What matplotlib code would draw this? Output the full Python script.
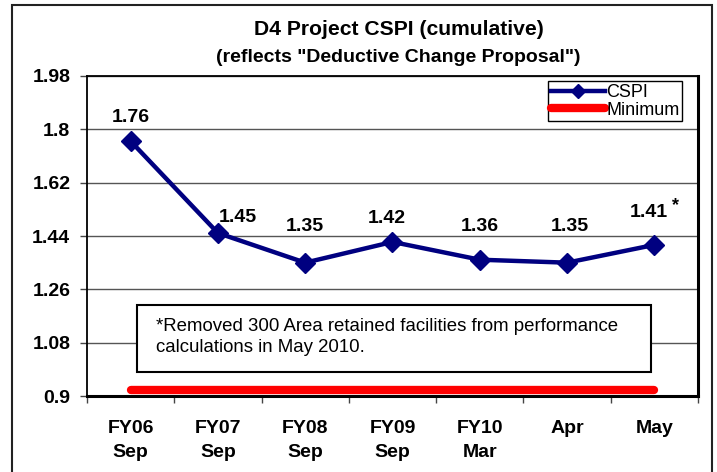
import numpy as np
import matplotlib
matplotlib.use('Agg')
import matplotlib.pyplot as plt
from matplotlib.patches import Rectangle
from matplotlib.lines import Line2D

periods = ['FY06\nSep', 'FY07\nSep', 'FY08\nSep', 'FY09\nSep', 'FY10\nMar', 'Apr', 'May']
cspi = [1.76, 1.45, 1.35, 1.42, 1.36, 1.35, 1.41]
minimum = [0.92] * len(periods)
yticks = [0.9, 1.08, 1.26, 1.44, 1.62, 1.8, 1.98]

# per-label offsets (points) to mimic the hand-placed Excel labels
lab_dx = [0, 14, 0, -4, 0, 2, -4]
lab_dy = [17, 11, 26, 17, 24, 26, 23]

NAVY = '#000080'; RED = '#ff0000'
plt.rcParams.update({'font.family': ['Liberation Sans', 'DejaVu Sans']})

fig = plt.figure(figsize=(7.17, 4.72), dpi=100)
ax = fig.add_axes([0.1213, 0.161, 0.8522, 0.678])

# outer chart border
fig.patches.append(Rectangle((0.0167, -0.01), 0.976, 0.999, transform=fig.transFigure,
                             fill=False, ec='#222', lw=1.5))

x = np.arange(len(periods))
ax.plot(x, minimum, color=RED, lw=6, solid_capstyle='round', zorder=3, label='Minimum')
ax.plot(x, cspi, color=NAVY, lw=3.2, marker='D', ms=10, zorder=4, label='CSPI')

for i, v in enumerate(cspi):
    ax.annotate(f'{v:.2f}', (x[i], v), xytext=(lab_dx[i], lab_dy[i]), textcoords='offset points',
                ha='center', va='center', fontsize=14, fontweight='bold')
ax.annotate('*', (x[-1], cspi[-1]), xytext=(lab_dx[-1] + 19, lab_dy[-1] + 5),
            textcoords='offset points', ha='center', va='center', fontsize=13, fontweight='bold')

ax.set_xlim(-0.5, len(periods) - 0.5)
ax.set_ylim(yticks[0], yticks[-1])
ax.set_yticks(yticks)
ax.set_yticklabels([f'{v:g}' for v in yticks])
ax.set_xticks(x)
ax.set_xticklabels(periods, linespacing=1.55, va='top')
ax.set_xticks(np.arange(len(periods) + 1) - 0.5, minor=True)
ax.tick_params(axis='x', which='major', length=0, pad=17)
ax.tick_params(axis='x', which='minor', length=5, width=1, color='#444', direction='out')
ax.tick_params(axis='y', length=5, width=1, color='#444', pad=7)
for lab in ax.get_xticklabels() + ax.get_yticklabels():
    lab.set_fontweight('bold'); lab.set_fontsize(14)

ax.grid(axis='y', color='#555', lw=1)
ax.set_axisbelow(True)
for s in ax.spines.values():
    s.set_color('black'); s.set_linewidth(1.3)
ax.spines['right'].set_linewidth(2.2)
ax.spines['bottom'].set_linewidth(2.2)

# note box
ax.add_patch(Rectangle((0.082, 0.075), 0.841, 0.209, transform=ax.transAxes,
                       fc='white', ec='black', lw=1.5, zorder=2))
ax.text(0.113, 0.183, '*Removed 300 Area retained facilities from performance\n'
        'calculations in May 2010.', transform=ax.transAxes, fontsize=13.4,
        va='center', ha='left', linespacing=1.3, zorder=3)

handles = [Line2D([], [], color=NAVY, lw=3.2, marker='D', ms=7),
           Line2D([], [], color=RED, lw=6, solid_capstyle='round')]
leg = ax.legend(handles, ['CSPI', 'Minimum'], loc='upper right', bbox_to_anchor=(0.974, 0.984),
                fontsize=13, frameon=True, fancybox=False, edgecolor='black', framealpha=1,
                handlelength=3.0, handletextpad=0.05, borderpad=0.15, labelspacing=0.05,
                borderaxespad=0)
leg.get_frame().set_linewidth(1)

fig.text(0.556, 0.937, 'D4 Project CSPI (cumulative)', ha='center', va='center',
         fontsize=15.2, fontweight='bold')
fig.text(0.556, 0.879, '(reflects "Deductive Change Proposal")', ha='center', va='center',
         fontsize=14, fontweight='bold')

fig.savefig('out.png', dpi=100)
